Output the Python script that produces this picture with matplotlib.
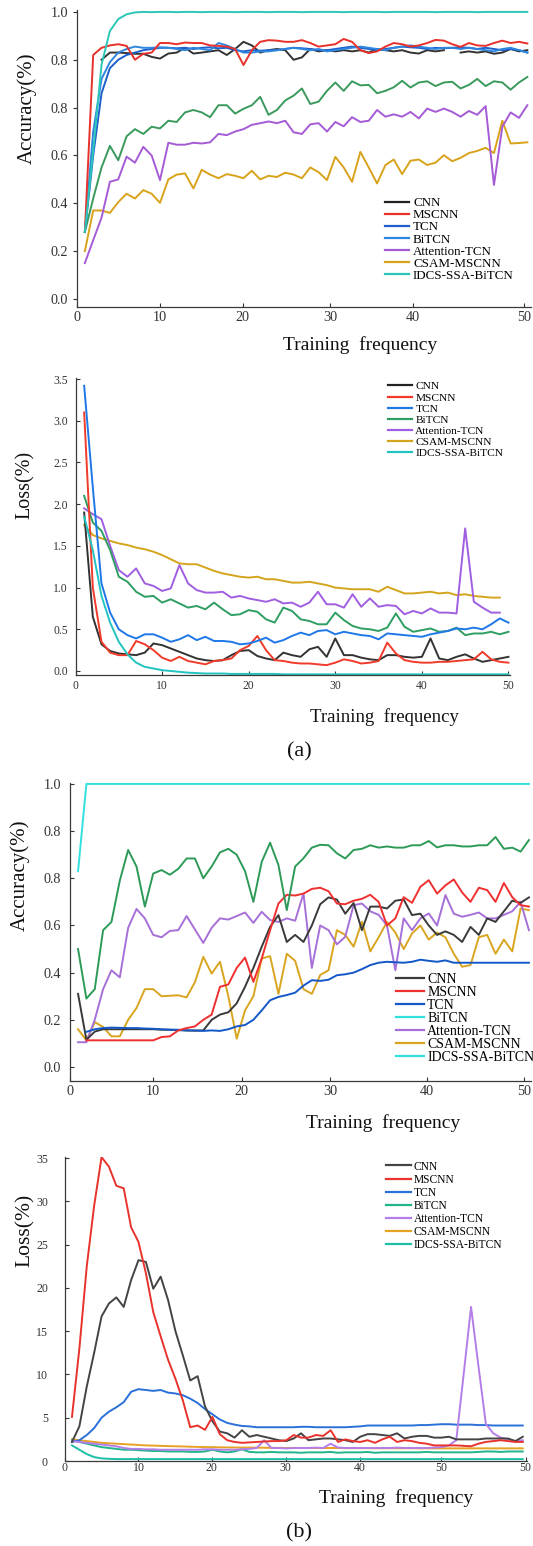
import numpy as np
import matplotlib
matplotlib.use("Agg")
import matplotlib.pyplot as plt
from matplotlib.lines import Line2D

plt.rcParams["font.family"] = ["Liberation Serif", "DejaVu Serif"]

nan = np.nan
MODELS = ["CNN", "MSCNN", "TCN", "BiTCN", "Attention-TCN", "CSAM-MSCNN", "IDCS-SSA-BiTCN"]

# ---------------- (a) accuracy ----------------
ACC_A_EPOCH = list(range(1, 55))
ACC_A_CNN = [nan, nan, 1.0, 1.03, 1.03, 1.028, 1.025, 1.025, 1.012, 1.005,
             1.026, 1.03, 1.05, 1.026, 1.03, 1.035, 1.04, 1.02, 1.045, 1.075,
             1.06, 1.03, 1.04, 1.045, 1.04, 1.0, 1.01, 1.045, 1.035, 1.04,
             1.035, 1.04, 1.035, 1.04, 1.03, 1.045, 1.04, 1.035, 1.04, 1.03,
             1.026, 1.04, 1.035, 1.04, nan, 1.03, 1.035, 1.03, 1.035, 1.025,
             1.03, 1.045, 1.035, 1.04]
ACC_A_MSCNN = [0.28, 1.02, 1.05, 1.06, 1.065, 1.058, 1.0, 1.025, 1.03, 1.07,
               1.07, 1.065, 1.072, 1.07, 1.07, 1.06, 1.058, 1.055, 1.045, 0.978,
               1.04, 1.075, 1.082, 1.08, 1.075, 1.075, 1.082, 1.07, 1.055, 1.06,
               1.065, 1.087, 1.075, 1.04, 1.028, 1.035, 1.055, 1.07, 1.065, 1.055,
               1.06, 1.07, 1.083, 1.08, 1.065, 1.054, 1.07, 1.06, 1.058, 1.07,
               1.08, 1.07, 1.075, 1.068]
ACC_A_TCN = [0.28, 0.6, 0.86, 0.965, 1.0, 1.02, 1.03, 1.04, 1.045, 1.05,
             1.05, 1.048, 1.05, 1.045, 1.05, 1.052, 1.048, 1.05, 1.04, 1.035,
             1.04, 1.038, 1.04, 1.04, 1.045, 1.05, 1.048, 1.045, 1.04, 1.04,
             1.045, 1.05, 1.055, 1.05, 1.045, 1.04, 1.045, 1.05, 1.055, 1.052,
             1.05, 1.045, 1.05, 1.048, 1.05, 1.052, 1.05, 1.045, 1.05, 1.045,
             1.04, 1.045, 1.04, 1.03]
ACC_A_BITCN = [0.28, 0.7, 0.92, 0.99, 1.03, 1.045, 1.055, 1.05, 1.05, 1.052,
               1.05, 1.045, 1.04, 1.05, 1.045, 1.04, 1.07, 1.06, 1.045, 1.03,
               1.03, 1.035, 1.035, 1.04, 1.045, 1.05, 1.045, 1.04, 1.045, 1.035,
               1.04, 1.045, 1.05, 1.055, 1.05, 1.045, 1.04, 1.05, 1.055, 1.06,
               1.055, 1.05, 1.045, 1.05, 1.05, 1.045, 1.05, 1.045, 1.04, 1.035,
               1.045, 1.05, 1.04, 1.03]
ACC_A_GREEN = [0.28, 0.42, 0.55, 0.64, 0.58, 0.68, 0.71, 0.69, 0.72, 0.713,
               0.745, 0.74, 0.78, 0.79, 0.78, 0.76, 0.81, 0.81, 0.775, 0.795,
               0.81, 0.845, 0.77, 0.79, 0.83, 0.85, 0.88, 0.815, 0.825, 0.87,
               0.905, 0.87, 0.91, 0.893, 0.895, 0.86, 0.87, 0.885, 0.912, 0.884,
               0.905, 0.91, 0.89, 0.905, 0.908, 0.88, 0.895, 0.92, 0.89, 0.91,
               0.905, 0.875, 0.905, 0.928]
ACC_A_ATT = [0.15, 0.246, 0.34, 0.49, 0.5, 0.595, 0.57, 0.636, 0.6, 0.497,
             0.653, 0.645, 0.645, 0.653, 0.65, 0.655, 0.69, 0.685, 0.7, 0.71,
             0.728, 0.735, 0.742, 0.735, 0.745, 0.697, 0.69, 0.73, 0.735, 0.7,
             0.74, 0.722, 0.76, 0.74, 0.745, 0.79, 0.762, 0.772, 0.762, 0.782,
             0.755, 0.796, 0.782, 0.796, 0.782, 0.762, 0.786, 0.77, 0.806, 0.477,
             0.72, 0.78, 0.757, 0.81]
ACC_A_CSAM = [0.2, 0.37, 0.37, 0.36, 0.405, 0.44, 0.42, 0.455, 0.44, 0.402,
              0.5, 0.52, 0.525, 0.462, 0.54, 0.52, 0.505, 0.522, 0.515, 0.505,
              0.536, 0.5, 0.515, 0.51, 0.528, 0.52, 0.505, 0.55, 0.53, 0.497,
              0.594, 0.55, 0.49, 0.615, 0.55, 0.483, 0.56, 0.583, 0.522, 0.578,
              0.583, 0.56, 0.57, 0.601, 0.576, 0.59, 0.61, 0.619, 0.632, 0.61,
              0.745, 0.65, 0.652, 0.655]
ACC_A_IDCS = [0.28, 0.62, 0.98, 1.12, 1.17, 1.19, 1.198, 1.2, 1.199, 1.2,
              1.2, 1.199, 1.2, 1.2, 1.199, 1.2, 1.2, 1.2, 1.199, 1.2,
              1.2, 1.2, 1.199, 1.2, 1.2, 1.2, 1.199, 1.2, 1.2, 1.2,
              1.2, 1.199, 1.2, 1.2, 1.2, 1.2, 1.199, 1.2, 1.2, 1.2,
              1.2, 1.2, 1.199, 1.2, 1.2, 1.2, 1.2, 1.199, 1.2, 1.2,
              1.2, 1.2, 1.2, 1.2]

# ---------------- (a) loss ----------------
LOSS_A_EPOCH = list(range(1, 51))
LOSS_A_CNN = [1.9, 0.65, 0.32, 0.24, 0.21, 0.2, 0.19, 0.22, 0.33, 0.31,
              0.27, 0.23, 0.19, 0.15, 0.13, 0.12, 0.13, 0.19, 0.24, 0.25,
              0.18, 0.15, 0.13, 0.22, 0.19, 0.17, 0.26, 0.29, 0.17, 0.39,
              0.19, 0.19, 0.16, 0.14, 0.13, 0.19, 0.19, 0.17, 0.16, 0.17,
              0.39, 0.15, 0.13, 0.17, 0.2, 0.15, 0.11, 0.13, 0.15, 0.17]
LOSS_A_MSCNN = [3.1, 1.0, 0.35, 0.22, 0.19, 0.19, 0.36, 0.32, 0.25, 0.16,
                0.12, 0.17, 0.12, 0.1, 0.08, 0.12, 0.13, 0.15, 0.25, 0.3,
                0.42, 0.25, 0.13, 0.12, 0.1, 0.09, 0.09, 0.08, 0.07, 0.1,
                0.14, 0.12, 0.09, 0.1, 0.12, 0.34, 0.21, 0.13, 0.11, 0.1,
                0.1, 0.11, 0.11, 0.12, 0.13, 0.14, 0.23, 0.14, 0.11, 0.1]
LOSS_A_TCN = [3.42, 2.2, 1.05, 0.7, 0.5, 0.43, 0.39, 0.44, 0.44, 0.4,
              0.35, 0.38, 0.43, 0.37, 0.41, 0.36, 0.36, 0.35, 0.32, 0.33,
              0.36, 0.4, 0.34, 0.37, 0.42, 0.46, 0.43, 0.48, 0.49, 0.44,
              0.47, 0.45, 0.43, 0.42, 0.38, 0.45, 0.44, 0.43, 0.42, 0.41,
              0.44, 0.46, 0.48, 0.51, 0.5, 0.52, 0.5, 0.56, 0.63, 0.58]
LOSS_A_BITCN = [2.1, 1.78, 1.68, 1.45, 1.13, 1.07, 0.95, 0.89, 0.9, 0.82,
                0.86, 0.81, 0.76, 0.78, 0.74, 0.82, 0.74, 0.67, 0.68, 0.73,
                0.71, 0.62, 0.58, 0.76, 0.72, 0.62, 0.6, 0.56, 0.56, 0.7,
                0.61, 0.54, 0.51, 0.5, 0.48, 0.52, 0.69, 0.53, 0.47, 0.49,
                0.51, 0.47, 0.48, 0.52, 0.43, 0.45, 0.45, 0.47, 0.44, 0.47]
LOSS_A_ATT = [1.95, 1.88, 1.82, 1.5, 1.21, 1.13, 1.23, 1.05, 1.02, 0.96,
              0.99, 1.27, 1.05, 0.97, 0.94, 0.94, 0.95, 0.88, 0.9, 0.87,
              0.85, 0.83, 0.86, 0.81, 0.82, 0.77, 0.82, 0.95, 0.8, 0.8,
              0.76, 0.92, 0.77, 0.87, 0.77, 0.79, 0.78, 0.68, 0.72, 0.69,
              0.75, 0.7, 0.7, 0.69, 1.71, 0.83, 0.76, 0.7, 0.7, nan]
LOSS_A_CSAM = [1.75, 1.63, 1.59, 1.56, 1.53, 1.51, 1.48, 1.46, 1.43, 1.39,
               1.34, 1.29, 1.28, 1.28, 1.24, 1.2, 1.17, 1.15, 1.13, 1.12,
               1.13, 1.1, 1.1, 1.08, 1.06, 1.06, 1.07, 1.05, 1.03, 1.0,
               0.99, 0.98, 0.98, 0.98, 0.95, 1.01, 0.97, 0.93, 0.93, 0.94,
               0.95, 0.93, 0.94, 0.91, 0.92, 0.9, 0.89, 0.88, 0.88, nan]
LOSS_A_IDCS = [1.85, 1.45, 0.9, 0.58, 0.35, 0.2, 0.1, 0.05, 0.03, 0.01,
               0.0, -0.01, -0.02, -0.025, -0.03, -0.03, -0.03, -0.035, -0.035, -0.035,
               -0.035, -0.035, -0.035, -0.04, -0.04, -0.04, -0.04, -0.04, -0.04, -0.04,
               -0.04, -0.04, -0.04, -0.04, -0.04, -0.04, -0.04, -0.04, -0.04, -0.04,
               -0.04, -0.04, -0.04, -0.04, -0.04, -0.04, -0.04, -0.04, -0.04, -0.04]

# ---------------- (b) accuracy ----------------
ACC_B_EPOCH = list(range(1, 56))
ACC_B_CNN = [0.31, 0.115, 0.15, 0.16, 0.16, 0.16, 0.16, 0.16, 0.16, 0.16,
             0.158, 0.158, 0.156, 0.155, 0.154, 0.155, 0.2, 0.222, 0.232, 0.27,
             0.34, 0.42, 0.51, 0.594, 0.644, 0.53, 0.56, 0.53, 0.6, 0.69,
             0.719, 0.71, 0.65, 0.695, 0.58, 0.68, 0.68, 0.672, 0.705, 0.71,
             0.644, 0.65, 0.6, 0.56, 0.575, 0.56, 0.53, 0.594, 0.56, 0.63,
             0.615, 0.66, 0.705, 0.696, 0.719]
ACC_B_MSCNN = [nan, 0.113, 0.113, 0.113, 0.113, 0.113, 0.113, 0.113, 0.113, 0.113,
               0.127, 0.13, 0.155, 0.165, 0.172, 0.2, 0.222, 0.34, 0.35, 0.42,
               0.464, 0.361, 0.46, 0.58, 0.693, 0.73, 0.727, 0.735, 0.755, 0.76,
               0.745, 0.693, 0.69, 0.705, 0.713, 0.73, 0.7, 0.6, 0.63, 0.72,
               0.696, 0.764, 0.792, 0.735, 0.77, 0.795, 0.74, 0.7, 0.76, 0.75,
               0.7, 0.78, 0.72, 0.686, 0.68]
ACC_B_TCN = [nan, 0.149, 0.16, 0.165, 0.167, 0.166, 0.165, 0.165, 0.163, 0.162,
             0.16, 0.158, 0.158, 0.155, 0.155, 0.153, 0.155, 0.153, 0.16, 0.172,
             0.178, 0.2, 0.24, 0.283, 0.297, 0.305, 0.315, 0.345, 0.368, 0.365,
             0.37, 0.389, 0.393, 0.4, 0.415, 0.432, 0.442, 0.446, 0.444, 0.442,
             0.446, 0.455, 0.45, 0.446, 0.452, 0.442, 0.442, 0.442, 0.442, 0.442,
             0.442, 0.442, 0.442, 0.442, 0.442]
ACC_B_GREEN = [0.5, 0.29, 0.33, 0.58, 0.615, 0.79, 0.92, 0.85, 0.68, 0.82,
               0.835, 0.815, 0.84, 0.884, 0.884, 0.8, 0.85, 0.91, 0.925, 0.9,
               0.83, 0.7, 0.87, 0.951, 0.856, 0.665, 0.85, 0.885, 0.93, 0.942,
               0.94, 0.906, 0.884, 0.92, 0.925, 0.94, 0.93, 0.935, 0.93, 0.93,
               0.94, 0.94, 0.958, 0.931, 0.94, 0.94, 0.935, 0.935, 0.94, 0.94,
               0.975, 0.925, 0.93, 0.913, 0.962]
ACC_B_ATT = [0.105, 0.105, 0.2, 0.33, 0.41, 0.38, 0.59, 0.67, 0.63, 0.56,
             0.55, 0.577, 0.58, 0.64, 0.583, 0.526, 0.59, 0.63, 0.625, 0.64,
             0.655, 0.611, 0.658, 0.623, 0.615, 0.63, 0.62, 0.735, 0.42, 0.6,
             0.58, 0.52, 0.552, 0.686, 0.693, 0.66, 0.645, 0.6, 0.41, 0.63,
             0.58, 0.63, 0.651, 0.6, 0.729, 0.65, 0.637, 0.645, 0.655, 0.63,
             0.63, 0.645, 0.66, 0.7, 0.58]
ACC_B_CSAM = [0.16, 0.113, 0.19, 0.17, 0.13, 0.13, 0.2, 0.25, 0.33, 0.33,
              0.3, 0.302, 0.304, 0.295, 0.36, 0.467, 0.396, 0.446, 0.3, 0.12,
              0.24, 0.3, 0.46, 0.47, 0.31, 0.48, 0.45, 0.33, 0.31, 0.39,
              0.41, 0.58, 0.56, 0.51, 0.616, 0.49, 0.55, 0.615, 0.57, 0.5,
              0.566, 0.6, 0.54, 0.57, 0.55, 0.48, 0.425, 0.432, 0.55, 0.56,
              0.48, 0.54, 0.49, 0.672, 0.665]
ACC_B_IDCS = [0.83, 1.2, 1.2, 1.2, 1.2, 1.2, 1.2, 1.2, 1.2, 1.2,
              1.2, 1.2, 1.2, 1.2, 1.2, 1.2, 1.2, 1.2, 1.2, 1.2,
              1.2, 1.2, 1.2, 1.2, 1.2, 1.2, 1.2, 1.2, 1.2, 1.2,
              1.2, 1.2, 1.2, 1.2, 1.2, 1.2, 1.2, 1.2, 1.2, 1.2,
              1.2, 1.2, 1.2, 1.2, 1.2, 1.2, 1.2, 1.2, 1.2, 1.2,
              1.2, 1.2, 1.2, 1.2, 1.2]

# ---------------- (b) loss ----------------
LOSS_B_EPOCH = list(range(1, 63))
LOSS_B_CNN = [2.2, 4.0, 8.6, 12.5, 16.7, 18.2, 18.9, 17.8, 20.9, 23.2,
              23.0, 19.9, 21.3, 18.6, 15.0, 12.2, 9.3, 9.8, 6.3, 4.6,
              3.4, 3.2, 2.7, 3.55, 2.8, 3.0, 2.8, 2.6, 2.4, 2.3,
              2.6, 3.2, 2.4, 2.5, 2.6, 2.6, 2.5, 2.4, 2.2, 2.8,
              3.1, 3.1, 3.0, 2.9, 3.2, 2.6, 2.8, 2.9, 2.9, 2.7,
              2.7, 2.8, 2.5, 2.5, 2.5, 2.5, 2.6, 2.6, 2.6, 2.6,
              2.3, 2.8]
LOSS_B_MSCNN = [5.1, 13.0, 22.5, 29.5, 35.1, 34.0, 31.8, 31.5, 27.0, 25.3,
                21.7, 17.2, 14.4, 11.7, 9.5, 7.0, 3.9, 4.1, 3.6, 5.1,
                3.1, 2.4, 2.2, 2.1, 2.15, 2.2, 2.25, 2.3, 2.3, 2.4,
                3.0, 2.7, 2.7, 3.0, 2.9, 3.55, 2.2, 2.5, 2.3, 2.2,
                2.4, 2.1, 2.5, 2.8, 2.2, 2.4, 2.3, 2.1, 2.0, 1.8,
                1.8, 1.8, 1.8, 1.75, 1.7, 2.0, 2.2, 2.3, 2.4, 2.3,
                2.2, 2.2]
LOSS_B_TCN = [2.2, 2.4, 3.0, 3.8, 5.0, 5.7, 6.2, 6.8, 8.0, 8.3,
              8.2, 8.1, 8.2, 7.9, 7.8, 7.6, 7.2, 6.7, 6.0, 5.4,
              4.8, 4.4, 4.2, 4.05, 4.0, 3.9, 3.9, 3.9, 3.9, 3.9,
              3.9, 3.95, 3.95, 3.9, 3.9, 3.9, 3.9, 3.9, 3.95, 4.0,
              4.1, 4.1, 4.1, 4.1, 4.1, 4.1, 4.1, 4.15, 4.15, 4.2,
              4.25, 4.25, 4.2, 4.2, 4.2, 4.15, 4.15, 4.1, 4.1, 4.1,
              4.1, 4.1]
LOSS_B_BITCN = [2.4, 2.2, 2.0, 1.8, 1.6, 1.5, 1.4, 1.3, 1.3, 1.25,
                1.2, 1.15, 1.15, 1.1, 1.1, 1.1, 1.05, 1.05, 1.1, 1.3,
                1.1, 1.0, 1.1, 1.35, 1.05, 1.0, 1.0, 1.05, 1.0, 1.0,
                1.0, 0.95, 1.0, 1.0, 1.0, 1.05, 0.95, 1.0, 1.0, 1.0,
                1.05, 0.95, 1.0, 1.0, 1.0, 1.0, 1.0, 1.0, 1.05, 1.0,
                1.0, 1.0, 1.0, 1.0, 1.0, 1.05, 1.1, 1.1, 1.05, 1.1,
                1.1, 1.1]
LOSS_B_ATT = [2.3, 2.2, 2.1, 2.0, 1.9, 1.8, 1.7, 1.5, 1.4, 1.4,
              1.35, 1.35, 1.3, 1.3, 1.3, 1.3, 1.3, 1.3, 1.35, 1.35,
              1.3, 1.3, 1.3, 1.35, 1.4, 1.5, 2.4, 1.5, 1.5, 1.45,
              1.5, 1.5, 1.5, 1.55, 1.5, 2.0, 1.55, 1.5, 1.5, 1.5,
              1.5, 1.5, 1.5, 1.5, 1.55, 1.5, 1.5, 1.5, 1.5, 1.55,
              1.6, 1.8, 2.4, 10.0, 17.8, 11.0, 4.3, 3.2, 2.7, 2.5,
              2.3, 2.4]
LOSS_B_CSAM = [2.5, 2.4, 2.3, 2.2, 2.1, 2.05, 2.0, 1.95, 1.9, 1.85,
               1.8, 1.78, 1.75, 1.72, 1.7, 1.68, 1.65, 1.63, 1.6, 1.6,
               1.58, 1.57, 1.56, 1.55, 1.55, 1.54, 1.53, 1.52, 1.52, 1.5,
               1.5, 1.5, 1.5, 1.5, 1.5, 1.5, 1.5, 1.48, 1.48, 1.48,
               1.48, 1.47, 1.47, 1.47, 1.47, 1.47, 1.47, 1.46, 1.46, 1.46,
               1.46, 1.46, 1.46, 1.46, 1.46, 1.46, 1.46, 1.46, 1.46, 1.46,
               1.46, 1.46]
LOSS_B_IDCS = [1.8, 1.3, 0.8, 0.45, 0.3, 0.25, 0.22, 0.22, 0.22, 0.22,
               0.22, 0.22, 0.22, 0.22, 0.22, 0.22, 0.22, 0.22, 0.22, 0.22,
               0.22, 0.22, 0.22, 0.22, 0.22, 0.22, 0.22, 0.22, 0.22, 0.22,
               0.22, 0.22, 0.22, 0.22, 0.22, 0.22, 0.22, 0.22, 0.22, 0.22,
               0.22, 0.22, 0.22, 0.22, 0.22, 0.22, 0.22, 0.22, 0.22, 0.22,
               0.22, 0.22, 0.22, 0.22, 0.22, 0.22, 0.22, 0.22, 0.22, 0.22,
               0.22, 0.22]

# tick labels as printed in the figure
ACC_YTICK_LABELS = ["0.0", "0.2", "0.4", "0.6", "0.8", "0.8", "1.0"]
ACC_A_XTICK_LABELS = ["0", "10", "20", "30", "40", "50"]
LOSS_A_YTICK_LABELS = ["0.0", "0.5", "1.0", "1.5", "2.0", "2.5", "3.0", "3.5"]
LOSS_B_XTICK_LABELS = ["0", "10", "20", "30", "40", "50", "50"]
LOSS_B_YTICK_LABELS = ["0", "5", "10", "15", "20", "25", "30", "35"]

W, H = 533, 1546
fig = plt.figure(figsize=(W / 100, H / 100), dpi=100, facecolor="white")


def box(left, top, right, bottom):
    return [left / W, 1 - bottom / H, (right - left) / W, (bottom - top) / H]


def panel(rect, epochs, lines, xlim, ylim, xticks, xlabels, yticks, ylabels,
          tick_size, ydir, ypad, xpad, legend_colors, legend_at, legend_size,
          handle_len, text_pad, spacing):
    ax = fig.add_axes(box(*rect))
    for values, color in lines:
        ax.plot(epochs, values, color=color, lw=1.4)
    ax.set_xlim(*xlim)
    ax.set_ylim(*ylim)
    ax.set_xticks(xticks, xlabels)
    ax.set_yticks(yticks, ylabels)
    for side in ("top", "right"):
        ax.spines[side].set_visible(False)
    for side in ("left", "bottom"):
        ax.spines[side].set_color("#3a3a3a")
        ax.spines[side].set_linewidth(0.9)
    ax.tick_params(axis="x", direction="in", length=3, width=0.8, pad=xpad,
                   labelsize=tick_size, colors="#333333")
    ax.tick_params(axis="y", direction=ydir, length=3, width=0.8, pad=ypad,
                   labelsize=tick_size, colors="#333333")
    handles = [Line2D([], [], color=c, lw=1.6) for c in legend_colors]
    fig.legend(handles, MODELS, loc="upper left",
               bbox_to_anchor=(legend_at[0] / W, 1 - legend_at[1] / H),
               frameon=False, borderpad=0, borderaxespad=0,
               handlelength=handle_len, handletextpad=text_pad,
               labelspacing=spacing, prop={"size": legend_size})
    return ax


def label(x, y, text, size, rotation=0):
    fig.text(x / W, 1 - y / H, text, fontsize=size, rotation=rotation,
             ha="center", va="center", color="#111111")


# (a) accuracy
panel((76.5, 10, 530.7, 307), ACC_A_EPOCH,
      [(ACC_A_GREEN, "#3a9a5c"), (ACC_A_CSAM, "#d9a21b"), (ACC_A_ATT, "#a55ad6"),
       (ACC_A_CNN, "#333333"), (ACC_A_TCN, "#1d5fcc"), (ACC_A_BITCN, "#2f86de"),
       (ACC_A_MSCNN, "#e8312b"), (ACC_A_IDCS, "#2cc6b8")],
      (0, 54.4), (-0.0334, 1.208), [0, 10, 19.9, 30.4, 40.3, 53.6], ACC_A_XTICK_LABELS,
      [0, 0.2, 0.4, 0.6, 0.8, 1.0, 1.2], ACC_YTICK_LABELS, 10.2, "out", 3, 3,
      ["#222222", "#e8312b", "#1d5fcc", "#2f86de", "#a55ad6", "#d9a21b", "#2cc6b8"],
      (385, 197), 9.4, 1.8, 0.35, 0.0)
label(27, 108, "Accuracy(%)", 15, 90)
label(360, 345, "Training  frequency", 14)

# (a) loss
panel((75.5, 378, 510.2, 675), LOSS_A_EPOCH,
      [(LOSS_A_CSAM, "#d4a41c"), (LOSS_A_ATT, "#a05ee0"), (LOSS_A_BITCN, "#2e9e62"),
       (LOSS_A_CNN, "#333333"), (LOSS_A_MSCNN, "#f03a2a"), (LOSS_A_TCN, "#1f78e8"),
       (LOSS_A_IDCS, "#22c4c0")],
      (0, 50.2), (-0.048, 3.513), [0, 10, 20, 30, 40, 50], ACC_A_XTICK_LABELS,
      [0, 0.5, 1.0, 1.5, 2.0, 2.5, 3.0, 3.5], LOSS_A_YTICK_LABELS, 8.4, "in", 5.4, 3.8,
      ["#222222", "#f03a2a", "#1f78e8", "#2e9e62", "#a05ee0", "#d4a41c", "#22c4c0"],
      (388, 381.5), 8.2, 2.1, 0.3, 0.1)
label(25.5, 485, "Loss(%)", 14.5, 90)
label(384, 717, "Training  frequency", 13.5)
label(299, 752, "(a)", 16)

# (b) accuracy
panel((69.7, 783, 530.6, 1081), ACC_B_EPOCH,
      [(ACC_B_CSAM, "#d9a520"), (ACC_B_ATT, "#a670d8"), (ACC_B_CNN, "#3a3a3a"),
       (ACC_B_TCN, "#1458c8"), (ACC_B_MSCNN, "#f03030"), (ACC_B_GREEN, "#2e9a58"),
       (ACC_B_IDCS, "#33e0e0")],
      (0, 55.2), (-0.0594, 1.204), [0, 10, 20.6, 31.2, 42.8, 54.4], ACC_A_XTICK_LABELS,
      [0, 0.2, 0.4, 0.6, 0.8, 1.0, 1.2], ACC_YTICK_LABELS, 10.2, "in", 6, 3,
      ["#3a3a3a", "#f03030", "#1458c8", "#33e0e0", "#a670d8", "#d9a520", "#33e0e0"],
      (396, 973), 10, 2.05, 0.2, 0.0)
label(19.5, 875, "Accuracy(%)", 15, 90)
label(383, 1123, "Training  frequency", 14)

# (b) loss
panel((64.6, 1157, 527.2, 1461), LOSS_B_EPOCH,
      [(LOSS_B_CSAM, "#e6a224"), (LOSS_B_BITCN, "#22b58c"), (LOSS_B_IDCS, "#1dbfa6"),
       (LOSS_B_TCN, "#2a70d8"), (LOSS_B_ATT, "#b47ee8"), (LOSS_B_CNN, "#444444"),
       (LOSS_B_MSCNN, "#e8332d")],
      (0, 62.6), (0, 35.12), [0, 10, 19.9, 29.9, 40, 51, 62.4], LOSS_B_XTICK_LABELS,
      [0, 5, 10, 15, 20, 25, 30, 35], LOSS_B_YTICK_LABELS, 8.6, "in", 12, 1,
      ["#444444", "#e8332d", "#2a70d8", "#22b58c", "#b47ee8", "#e6a224", "#1dbfa6"],
      (386, 1160.5), 8.3, 2.17, 0.25, 0.09)
label(25.5, 1230, "Loss(%)", 15.5, 90)
label(396, 1498, "Training  frequency", 14)
label(299, 1533, "(b)", 16)

fig.savefig("out.png", dpi=100, facecolor="white")
